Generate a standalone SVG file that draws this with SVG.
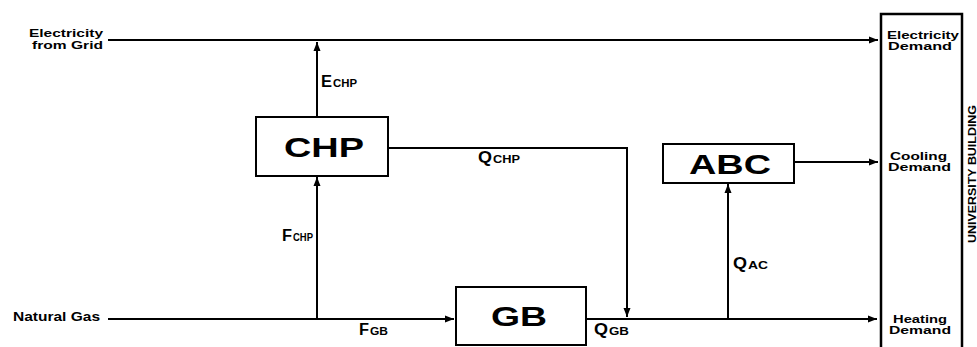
<svg xmlns="http://www.w3.org/2000/svg" width="977" height="347" viewBox="0 0 977 347">
<defs>
<marker id="ah" markerUnits="userSpaceOnUse" markerWidth="10" markerHeight="8" refX="9" refY="4" orient="auto">
<path d="M0,0.5 L9,4 L0,7.5 Z" fill="#000"/>
</marker>
<style>
.ln{fill:none;stroke:#000;stroke-width:2}
.box{fill:#fff;stroke:#000;stroke-width:2}
.t{font-family:"Liberation Sans",Arial,sans-serif;font-weight:bold;fill:#000}
.s{font-size:11px}
.big{font-size:28px}
.lab{font-size:16px}
.sub{font-size:10.5px}
.d{font-size:10.5px}
</style>
</defs>
<rect width="977" height="347" fill="#fff"/>
<g id="connectors">
<path class="ln" d="M108,40 H878" marker-end="url(#ah)"/>
<path class="ln" d="M317,117 V42" marker-end="url(#ah)"/>
<path class="ln" d="M317,319 V177" marker-end="url(#ah)"/>
<path class="ln" d="M108,319 H454" marker-end="url(#ah)"/>
<path class="ln" d="M388,148 H627 V317" marker-end="url(#ah)"/>
<path class="ln" d="M586,319 H877" marker-end="url(#ah)"/>
<path class="ln" d="M728,319 V184" marker-end="url(#ah)"/>
<path class="ln" d="M794,162 H878" marker-end="url(#ah)"/>
</g>
<g id="labels">
<text class="t" y="87"><tspan x="321" class="lab" textLength="11" lengthAdjust="spacingAndGlyphs">E</tspan><tspan x="333" class="sub" textLength="24" lengthAdjust="spacingAndGlyphs">CHP</tspan></text>
<text class="t" y="163"><tspan x="478" class="lab" textLength="14" lengthAdjust="spacingAndGlyphs">Q</tspan><tspan x="493" class="sub" textLength="27" lengthAdjust="spacingAndGlyphs">CHP</tspan></text>
<text class="t" y="241"><tspan x="282" class="lab" textLength="10" lengthAdjust="spacingAndGlyphs">F</tspan><tspan x="293" class="sub" textLength="20" lengthAdjust="spacingAndGlyphs">CHP</tspan></text>
<text class="t" y="269"><tspan x="733" class="lab" textLength="14" lengthAdjust="spacingAndGlyphs">Q</tspan><tspan x="748" class="sub" textLength="20" lengthAdjust="spacingAndGlyphs">AC</tspan></text>
<text class="t" y="335"><tspan x="359" class="lab" textLength="10" lengthAdjust="spacingAndGlyphs">F</tspan><tspan x="370" class="sub" textLength="18" lengthAdjust="spacingAndGlyphs">GB</tspan></text>
<text class="t" y="335"><tspan x="594" class="lab" textLength="14" lengthAdjust="spacingAndGlyphs">Q</tspan><tspan x="609" class="sub" textLength="20" lengthAdjust="spacingAndGlyphs">GB</tspan></text>
</g>
<g id="grid">
<text class="t s" x="29" y="37" textLength="74" lengthAdjust="spacingAndGlyphs">Electricity</text>
<text class="t s" x="32" y="48.5" textLength="71" lengthAdjust="spacingAndGlyphs">from Grid</text>
</g>
<g id="gas">
<text class="t" style="font-size:12px" x="13" y="321.3" textLength="87" lengthAdjust="spacingAndGlyphs">Natural Gas</text>
</g>
<g id="chp">
<rect class="box" x="256" y="117" width="132" height="59"/>
<text class="t big" x="284" y="157" textLength="80" lengthAdjust="spacingAndGlyphs">CHP</text>
</g>
<g id="abc">
<rect class="box" x="663" y="144" width="131" height="39"/>
<text class="t big" x="689" y="174" textLength="82" lengthAdjust="spacingAndGlyphs">ABC</text>
</g>
<g id="gb">
<rect class="box" x="456" y="287" width="130" height="58"/>
<text class="t big" x="491" y="326" textLength="56" lengthAdjust="spacingAndGlyphs">GB</text>
</g>
<g id="building">
<rect x="881" y="14" width="81" height="345" fill="#fff" stroke="#000" stroke-width="2.5"/>
<text class="t d" x="887" y="38.5" textLength="72" lengthAdjust="spacingAndGlyphs">Electricity</text>
<text class="t d" x="888" y="49.5" textLength="64" lengthAdjust="spacingAndGlyphs">Demand</text>
<text class="t d" x="890" y="160" textLength="57" lengthAdjust="spacingAndGlyphs">Cooling</text>
<text class="t d" x="888" y="171" textLength="63" lengthAdjust="spacingAndGlyphs">Demand</text>
<text class="t d" x="893" y="322.5" textLength="54" lengthAdjust="spacingAndGlyphs">Heating</text>
<text class="t d" x="889" y="333.5" textLength="62" lengthAdjust="spacingAndGlyphs">Demand</text>
<text class="t" style="font-size:11.5px" transform="translate(975.5,243) rotate(-90)" x="0" y="0" textLength="138" lengthAdjust="spacingAndGlyphs">UNIVERSITY BUILDING</text>
</g>
</svg>
